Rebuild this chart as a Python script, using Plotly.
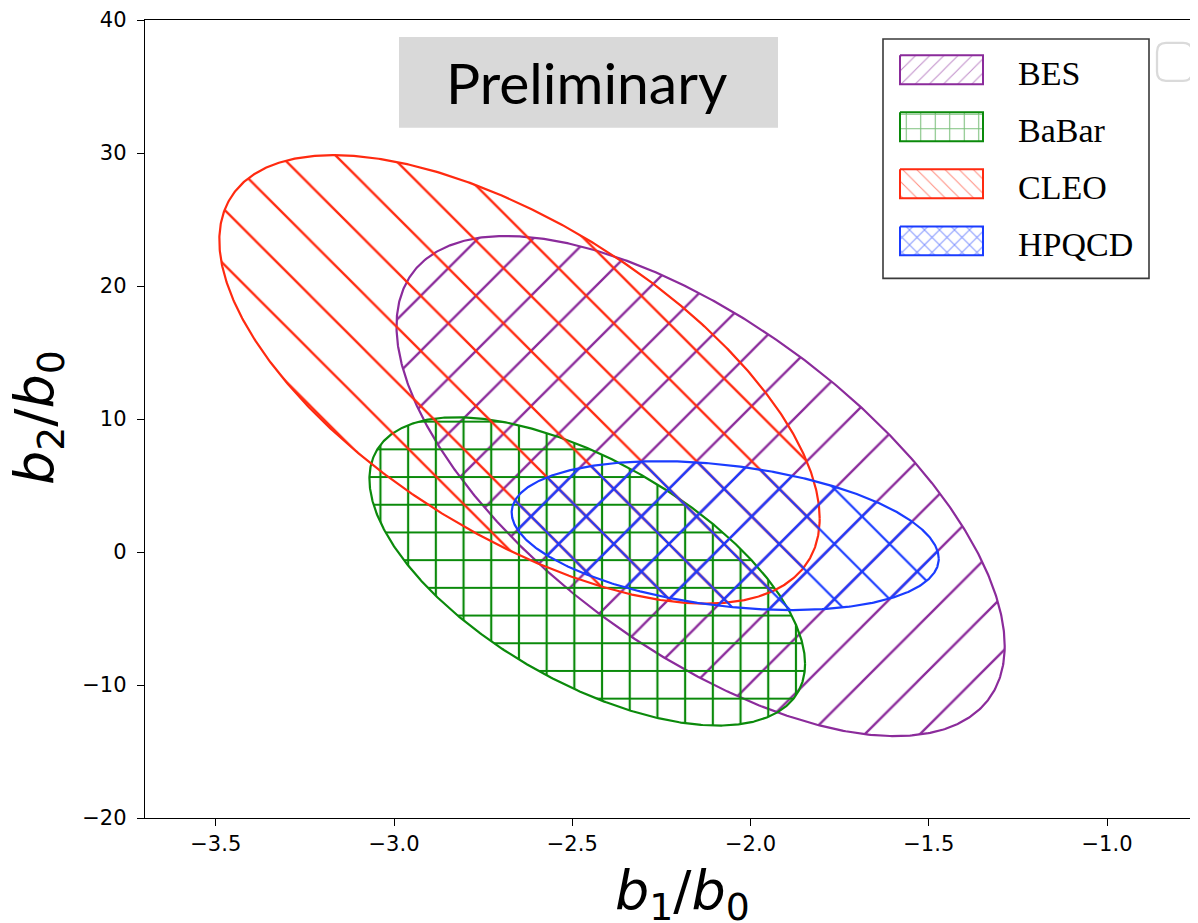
import numpy as np
import plotly.graph_objects as go

# ---------------- data ----------------
names = ["BES", "BaBar", "CLEO", "HPQCD"]
center_b1 = [-2.140, -2.458, -2.648, -2.071]
center_b2 = [4.96, -1.46, 12.98, 1.23]
sigma_b1 = [0.853, 0.611, 0.842, 0.599]
sigma_b2 = [18.80, 11.59, 16.86, 5.60]
rho = [-0.64, -0.60, -0.62, -0.31]
colors = ["#8b2b9b", "#0b8a0b", "#ff2a10", "#1a3cff"]
hatches = ["/", "+", "\\", "x"]

x_tickvals = [-3.5, -3.0, -2.5, -2.0, -1.5, -1.0]
x_ticktext = ["\u22123.5", "\u22123.0", "\u22122.5", "\u22122.0", "\u22121.5", "\u22121.0"]
y_tickvals = [-20, -10, 0, 10, 20, 30, 40]
y_ticktext = ["\u221220", "\u221210", "0", "10", "20", "30", "40"]

# ---------------- layout geometry (page pixels) ----------------
OFF = 8                      # default body margin of the html page
PAGE_W, PAGE_H = 1198, 923
W, H = PAGE_W - OFF, PAGE_H - OFF
L, R, T, B = 145, 1198, 18, 818
XRANGE = [-3.6985, -0.7448]
YRANGE = [-20, 40]


def px2paper(px, py):
    return (px - L) / (R - L), (B - py) / (B - T)


# hatch settings: (size, solidity) for plot and legend
plot_hatch = {"/": (39.0, 0.06), "\\": (39.0, 0.06), "x": (39.0, 0.11), "+": (27.7, 0.15)}
leg_hatch = {"/": (10.0, 0.10), "\\": (10.0, 0.10), "x": (10.6, 0.18), "+": (14.5, 0.14)}

fig = go.Figure()

t = np.linspace(0, 2 * np.pi, 721)
for i, name in enumerate(names):
    d = np.arccos(rho[i])
    xs = center_b1[i] + sigma_b1[i] * np.cos(t)
    ys = center_b2[i] + sigma_b2[i] * np.cos(t - d)
    sz, sol = plot_hatch[hatches[i]]
    fig.add_trace(go.Scatter(
        x=xs, y=ys, mode="lines", fill="toself",
        fillcolor="rgba(0,0,0,0)",
        fillpattern=dict(shape=hatches[i], size=sz, solidity=sol,
                         fgcolor=colors[i], bgcolor="rgba(0,0,0,0)",
                         fillmode="replace"),
        line=dict(color=colors[i], width=2.2),
        name=name, showlegend=False, hoverinfo="skip",
    ))

# ---------------- custom legend (pixel axes) ----------------
leg_x0, leg_w, leg_top0, leg_h, leg_pitch = 900, 83, 53.3, 29, 57.2
annotations = []
for i, name in enumerate(names):
    y0 = leg_top0 + i * leg_pitch
    y1 = y0 + leg_h
    sz, sol = leg_hatch[hatches[i]]
    fig.add_trace(go.Scatter(
        x=[leg_x0, leg_x0 + leg_w, leg_x0 + leg_w, leg_x0, leg_x0],
        y=[y0, y0, y1, y1, y0],
        xaxis="x2", yaxis="y2", mode="lines", fill="toself",
        fillcolor="rgba(0,0,0,0)",
        fillpattern=dict(shape=hatches[i], size=sz, solidity=sol,
                         fgcolor=colors[i], fgopacity=0.55,
                         bgcolor="rgba(0,0,0,0)", fillmode="replace"),
        line=dict(color=colors[i], width=2),
        showlegend=False, hoverinfo="skip",
    ))
    annotations.append(dict(
        x=1016.0, y=(y0 + y1) / 2 + 3.5, xref="x2", yref="y2",
        text=name, showarrow=False, xanchor="left", yanchor="middle",
        font=dict(family="Liberation Serif", size=34, color="black"),
    ))

shapes = [
    # legend frame
    dict(type="rect", xref="x2", yref="y2", x0=883, x1=1149, y0=37, y1=277,
         line=dict(color="#3a3a3a", width=1.6), fillcolor="white", layer="below"),
    # preliminary box
    dict(type="rect", xref="x2", yref="y2", x0=399, x1=778, y0=35, y1=126,
         line=dict(width=0), fillcolor="#d9d9d9", layer="below"),
    # cropped rounded box at right edge
    dict(type="path", xref="x2", yref="y2",
         path="M1166,41 L1183,41 Q1192,41 1192,50 L1192,70 Q1192,79 1183,79 "
              "L1166,79 Q1157,79 1157,70 L1157,50 Q1157,41 1166,41 Z",
         line=dict(color="#dadada", width=2.3), fillcolor="white", layer="below"),
]

annotations.append(dict(
    x=586, y=80.5, xref="x2", yref="y2", text="Preliminary", showarrow=False,
    xanchor="center", yanchor="middle",
    font=dict(family="Lato", size=57, color="black"),
))

# axis titles
ax_x, ax_y = px2paper(682, 857)
annotations.append(dict(
    x=ax_x, y=ax_y, xref="paper", yref="paper",
    text="<i>b</i><sub>1</sub>/<i>b</i><sub>0</sub>", showarrow=False,
    xanchor="center", yanchor="top",
    font=dict(family="DejaVu Sans", size=54, color="black"),
))
ay_x, ay_y = px2paper(1, 416)
annotations.append(dict(
    x=ay_x, y=ay_y, xref="paper", yref="paper", textangle=-90,
    text="<i>b</i><sub>2</sub>/<i>b</i><sub>0</sub>", showarrow=False,
    xanchor="left", yanchor="middle",
    font=dict(family="DejaVu Sans", size=54, color="black"),
))

fig.update_layout(
    width=W, height=H, autosize=False,
    margin=dict(l=L - OFF, r=0, t=T - OFF, b=H - (B - OFF), pad=0),
    paper_bgcolor="white", plot_bgcolor="white",
    font=dict(family="DejaVu Sans", size=21, color="black"),
    xaxis=dict(range=XRANGE, tickvals=x_tickvals, ticktext=x_ticktext,
               showgrid=False, zeroline=False, showline=True, mirror=True,
               linecolor="black", linewidth=1.4, ticks="outside", ticklen=7,
               tickwidth=1.4, tickcolor="black", ticklabelstandoff=0,
               ticklabeloverflow="allow",
               tickfont=dict(family="DejaVu Sans", size=21, color="black"),
               fixedrange=True),
    yaxis=dict(range=YRANGE, tickvals=y_tickvals, ticktext=y_ticktext,
               showgrid=False, zeroline=False, showline=True, mirror=False,
               linecolor="black", linewidth=1.4, ticks="outside", ticklen=7,
               tickwidth=1.4, tickcolor="black", ticklabelstandoff=6,
               ticklabeloverflow="allow",
               tickfont=dict(family="DejaVu Sans", size=21, color="black"),
               fixedrange=True),
    xaxis2=dict(range=[L, R], overlaying="x", anchor="y2", visible=False,
                fixedrange=True),
    yaxis2=dict(range=[B, T], overlaying="y", anchor="x2", visible=False,
                fixedrange=True),
    shapes=shapes,
    annotations=annotations,
    showlegend=False,
)

fig.write_html("out.html")
